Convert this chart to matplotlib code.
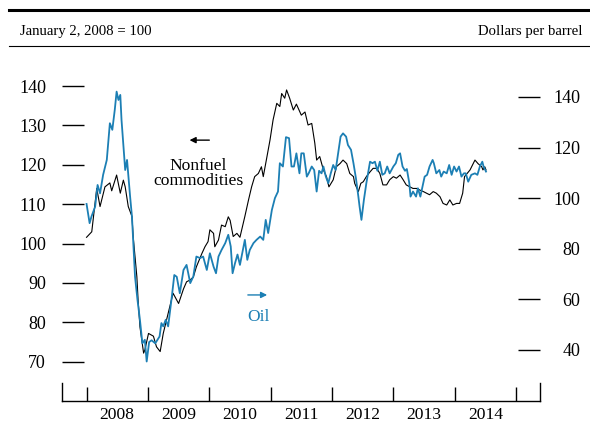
import matplotlib
matplotlib.use('Agg')
import matplotlib.pyplot as plt
from matplotlib.lines import Line2D

plt.rcParams['font.family'] = ['Liberation Serif', 'DejaVu Serif']
BLUE = '#1c7fb4'

# ---------- data (decimal years) ----------
nonfuel_t = [2008.00, 2008.085, 2008.166, 2008.22, 2008.30, 2008.38, 2008.41, 2008.49, 2008.55, 2008.60,
             2008.63, 2008.68, 2008.74, 2008.76, 2008.82, 2008.84, 2008.87, 2008.93, 2008.95, 2009.01,
             2009.09, 2009.14, 2009.20, 2009.25, 2009.33, 2009.41, 2009.50, 2009.58, 2009.63, 2009.69,
             2009.74, 2009.79, 2009.88, 2009.93, 2009.98, 2010.01, 2010.07, 2010.09, 2010.15, 2010.20,
             2010.26, 2010.31, 2010.34, 2010.39, 2010.45, 2010.50, 2010.58, 2010.64, 2010.69, 2010.74,
             2010.80, 2010.85, 2010.88, 2010.93, 2010.99, 2011.04, 2011.10, 2011.15, 2011.18, 2011.23,
             2011.26, 2011.31, 2011.37, 2011.42, 2011.50, 2011.56, 2011.61, 2011.67, 2011.72, 2011.75,
             2011.80, 2011.86, 2011.91, 2011.95, 2012.02, 2012.07, 2012.13, 2012.18, 2012.24, 2012.29,
             2012.35, 2012.37, 2012.43, 2012.47, 2012.51, 2012.56, 2012.62, 2012.67, 2012.73, 2012.78,
             2012.83, 2012.89, 2012.94, 2013.00, 2013.05, 2013.11, 2013.16, 2013.21, 2013.27, 2013.32,
             2013.38, 2013.43, 2013.49, 2013.54, 2013.59, 2013.65, 2013.70, 2013.76, 2013.81, 2013.87,
             2013.92, 2013.97, 2014.03, 2014.08, 2014.13, 2014.16, 2014.25, 2014.33, 2014.38, 2014.44,
             2014.46, 2014.49, 2014.51]
nonfuel_v = [101.6, 103.0, 114.0, 109.4, 114.4, 115.4, 113.4, 117.4, 112.8, 116.1,
             114.4, 109.4, 106.9, 101.8, 91.6, 85.7, 78.9, 72.2, 73.0, 77.2,
             76.5, 73.8, 72.6, 77.2, 82.3, 87.4, 84.8, 88.5, 90.3, 90.8,
             91.5, 94.1, 97.5, 99.2, 100.5, 103.5, 102.6, 99.2, 100.9, 104.7,
             104.3, 106.8, 105.9, 101.8, 102.6, 101.6, 106.9, 111.1, 114.4, 117.0,
             117.8, 119.5, 117.0, 121.2, 126.3, 131.4, 135.6, 134.8, 138.1, 136.9,
             139.0, 136.9, 133.9, 135.4, 132.6, 133.4, 130.1, 130.5, 125.5, 121.2,
             122.1, 118.7, 117.0, 114.4, 116.2, 119.5, 120.3, 121.2, 120.3, 117.8,
             117.0, 115.3, 113.2, 115.3, 115.7, 117.0, 118.2, 119.1, 119.1, 117.8,
             114.9, 114.9, 116.2, 117.0, 116.6, 117.4, 116.2, 114.9, 114.4, 114.0,
             114.0, 113.6, 113.2, 112.8, 112.4, 113.2, 112.8, 111.9, 110.2, 109.8,
             111.1, 109.8, 110.2, 110.2, 112.8, 117.0, 118.7, 121.2, 120.3, 119.5,
             118.7, 119.5, 118.7]

oil_t = [2008.00, 2008.05, 2008.08, 2008.14, 2008.18, 2008.22, 2008.27, 2008.33, 2008.38, 2008.42,
         2008.46, 2008.49, 2008.52, 2008.55, 2008.57, 2008.63, 2008.66, 2008.71, 2008.74, 2008.76,
         2008.79, 2008.83, 2008.87, 2008.91, 2008.95, 2008.98, 2009.02, 2009.06, 2009.12, 2009.19,
         2009.22, 2009.25, 2009.29, 2009.33, 2009.39, 2009.43, 2009.47, 2009.52, 2009.58, 2009.63,
         2009.69, 2009.74, 2009.79, 2009.85, 2009.90, 2009.96, 2010.01, 2010.07, 2010.11, 2010.15,
         2010.20, 2010.26, 2010.31, 2010.35, 2010.38, 2010.42, 2010.46, 2010.50, 2010.58, 2010.62,
         2010.66, 2010.72, 2010.77, 2010.83, 2010.88, 2010.92, 2010.96, 2011.02, 2011.07, 2011.12,
         2011.15, 2011.20, 2011.25, 2011.30, 2011.34, 2011.38, 2011.42, 2011.47, 2011.50, 2011.54,
         2011.59, 2011.62, 2011.67, 2011.71, 2011.75, 2011.79, 2011.83, 2011.86, 2011.90, 2011.94,
         2011.98, 2012.02, 2012.06, 2012.10, 2012.14, 2012.18, 2012.23, 2012.26, 2012.31, 2012.35,
         2012.39, 2012.43, 2012.45, 2012.48, 2012.52, 2012.56, 2012.62, 2012.66, 2012.70, 2012.74,
         2012.78, 2012.82, 2012.86, 2012.90, 2012.94, 2013.00, 2013.04, 2013.08, 2013.11, 2013.15,
         2013.19, 2013.22, 2013.26, 2013.28, 2013.32, 2013.37, 2013.40, 2013.44, 2013.48, 2013.51,
         2013.55, 2013.59, 2013.64, 2013.66, 2013.70, 2013.75, 2013.78, 2013.82, 2013.87, 2013.91,
         2013.95, 2013.99, 2014.03, 2014.07, 2014.11, 2014.15, 2014.18, 2014.22, 2014.27, 2014.33,
         2014.37, 2014.41, 2014.45, 2014.47, 2014.51]
oil_v = [97.7, 90.1, 92.7, 96.6, 105.2, 101.9, 109.2, 115.1, 129.6, 127.0,
         134.9, 142.1, 138.8, 140.8, 130.9, 111.1, 115.1, 100.6, 92.7, 83.5,
         69.0, 59.8, 51.9, 42.6, 44.0, 35.4, 43.1, 43.8, 42.6, 45.3,
         50.6, 49.3, 51.9, 49.3, 61.1, 69.6, 68.9, 62.4, 71.6, 73.6,
         66.4, 69.0, 76.9, 76.3, 76.9, 71.6, 78.2, 72.9, 70.3, 76.9,
         79.5, 82.2, 85.5, 80.9, 70.3, 74.3, 77.7, 73.6, 83.5, 75.6,
         79.5, 82.2, 83.5, 84.8, 83.5, 91.4, 86.2, 95.3, 100.0, 102.6,
         113.8, 112.5, 124.1, 123.7, 112.5, 112.5, 117.7, 109.8, 117.7, 117.7,
         108.5, 109.8, 112.5, 111.1, 102.6, 110.8, 109.8, 112.5, 108.5, 105.9,
         109.8, 113.1, 111.1, 117.7, 124.3, 125.6, 124.3, 121.0, 119.1, 113.8,
         107.9, 100.6, 96.6, 91.4, 99.3, 105.9, 114.4, 113.8, 114.4, 110.8,
         114.4, 109.2, 109.8, 112.5, 109.8, 112.5, 113.8, 117.1, 117.7, 112.5,
         110.8, 111.5, 105.9, 100.6, 102.6, 100.6, 103.9, 100.6, 105.2, 108.5,
         109.2, 112.5, 115.1, 113.8, 109.8, 111.1, 108.5, 110.5, 109.8, 113.1,
         109.2, 112.5, 110.5, 112.5, 108.5, 109.8, 109.8, 106.5, 109.2, 109.8,
         109.2, 112.5, 114.4, 112.5, 110.5]

years = [2008, 2009, 2010, 2011, 2012, 2013, 2014, 2015]
year_labels = ['2008', '2009', '2010', '2011', '2012', '2013', '2014']
left_ticks = [70, 80, 90, 100, 110, 120, 130, 140]
right_ticks = [40, 60, 80, 100, 120, 140]

# ---------- figure ----------
fig = plt.figure(figsize=(5.9, 4.24), dpi=100)
ax = fig.add_axes([62/590, 1-401/424, 478/590, 341/424])
ax2 = ax.twinx()

ax.plot(nonfuel_t, nonfuel_v, color='black', linewidth=0.8, zorder=3)
ax2.plot(oil_t, oil_v, color=BLUE, linewidth=1.3)

ax.set_xlim(2007.60, 2015.39)
ax.set_ylim(60.05, 146.6)
ax2.set_ylim(19.8, 154.6)

for a in (ax, ax2):
    for s in a.spines.values():
        s.set_visible(False)
ax.spines['bottom'].set_visible(True)
ax.spines['bottom'].set_linewidth(1.0)

ax.set_yticks(left_ticks)
ax.tick_params(axis='y', direction='in', length=15.8, width=1.0, pad=11.5, labelsize=13)
ax2.set_yticks(right_ticks)
ax2.tick_params(axis='y', direction='in', length=15.8, width=1.0, pad=29, labelsize=13)
for lab in ax2.get_yticklabels():
    lab.set_ha('right')

ax.set_xticks(years)
ax.set_xticklabels([])
ax.set_xticks([y + 0.5 for y in years[:-1]], minor=True)
ax.set_xticklabels(year_labels, minor=True)
ax.tick_params(axis='x', which='major', direction='in', length=10, width=1.0)
ax.tick_params(axis='x', which='minor', length=0, pad=4.5, labelsize=12.6)

# taller end ticks
for xe in (0, 1):
    ax.plot([xe, xe], [0, 18/341], transform=ax.transAxes, color='black', linewidth=1.0, clip_on=False)

# annotations
ax.annotate('', xy=(0.261, 0.765), xytext=(0.314, 0.765), xycoords='axes fraction',
            arrowprops=dict(arrowstyle='-|>', color='black', lw=1.0, mutation_scale=9))
ax.text(0.285, 0.667, 'Nonfuel\ncommodities', transform=ax.transAxes, ha='center', va='center',
        fontsize=12.6, linespacing=0.95)
ax.annotate('', xy=(0.435, 0.311), xytext=(0.383, 0.311), xycoords='axes fraction',
            arrowprops=dict(arrowstyle='-|>', color=BLUE, lw=1.0, mutation_scale=9))
ax.text(0.410, 0.246, 'Oil', transform=ax.transAxes, ha='center', va='center',
        fontsize=12.6, color=BLUE)

# header
fig.add_artist(Line2D([9/590, 1], [1-10/424, 1-10/424], color='black', linewidth=2.2))
fig.add_artist(Line2D([9/590, 1], [1-46/424, 1-46/424], color='black', linewidth=0.8))
fig.text(20/590, 1-32/424, 'January 2, 2008 = 100', ha='left', va='center', fontsize=10.6)
fig.text(582/590, 1-32/424, 'Dollars per barrel', ha='right', va='center', fontsize=10.6)

fig.savefig('out.png', dpi=100)
